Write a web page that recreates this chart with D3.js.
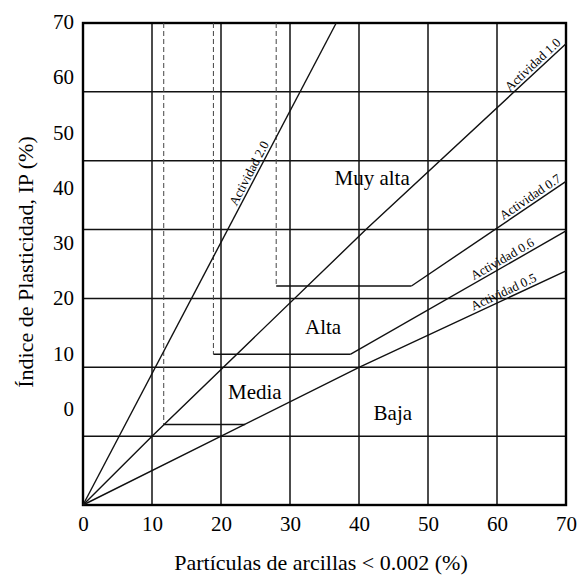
<!DOCTYPE html>
<html>
<head>
<meta charset="utf-8">
<script src="https://cdn.jsdelivr.net/npm/d3@7"></script>
<style>
  body { margin: 0; background: #fff; }
  text { font-family: "Liberation Serif", "Times New Roman", serif; fill: #000; }
</style>
</head>
<body>
<svg id="chart"></svg>
<script>
// tick values
const xTicks = [0, 10, 20, 30, 40, 50, 60, 70];
const yGrid = [0, 10, 20, 30, 40, 50, 60, 70];
const yLabels = [0, 10, 20, 30, 40, 50, 60, 70];

// activity lines (clay %, IP)
const act20 = [[0, 0], [36.7, 70]];
const act10 = [[0, 0], [10, 10], [41, 40], [70, 67]];
const act05 = [[0, 0], [40, 20], [70, 34]];
const act06 = [[38.8, 21.9], [70, 39.8]];
const act07 = [[47.6, 31.8], [70, 47]];

// zone limits: dashed vertical at clay, step at IP, step ends at clay
const zoneClay = [11.7, 18.9, 28.0];
const zoneIP = [11.7, 21.9, 31.8];
const zoneEnd = [23.5, 38.8, 47.6];

const zoneNames = ["Media", "Alta", "Muy alta", "Baja"];
const zoneAt = [[24.9, 16.4], [34.8, 25.9], [41.9, 47.5], [44.9, 13.4]];

const actNames = ["Actividad 2.0", "Actividad 1.0", "Actividad 0.7", "Actividad 0.6", "Actividad 0.5"];
const actLines = [act20, act10, act07, act06, act05];
const actAt = [25, 65.9, 65.4, 61.3, 61.4];

const W = 582, H = 576;
const margin = { top: 23, right: 16, bottom: 71, left: 83 };
const width = W - margin.left - margin.right,
      height = H - margin.top - margin.bottom;

const svg = d3.select("#chart").attr("width", W).attr("height", H);
const g = svg.append("g").attr("transform", `translate(${margin.left},${margin.top})`);

const x = d3.scaleLinear().domain([0, 70]).range([0, width]);
const y = d3.scaleLinear().domain([0, 70]).range([height, 0]);
// the printed y labels sit on their own spacing, not on the grid
const yLab = d3.scaleLinear().domain([0, 70]).range([385.5, -1]);

// grid
g.selectAll(".vgrid").data(xTicks).enter().append("line")
  .attr("x1", d => x(d)).attr("x2", d => x(d))
  .attr("y1", 0).attr("y2", height)
  .attr("stroke", "#111").attr("stroke-width", 1.5);
g.selectAll(".hgrid").data(yGrid).enter().append("line")
  .attr("y1", d => y(d)).attr("y2", d => y(d))
  .attr("x1", 0).attr("x2", width)
  .attr("stroke", "#111").attr("stroke-width", 1.5);
g.append("rect").attr("width", width).attr("height", height)
  .attr("fill", "none").attr("stroke", "#000").attr("stroke-width", 2.4);

// x axis labels
const xAxis = g.append("g").attr("transform", `translate(0,${height})`)
  .call(d3.axisBottom(x).tickValues(xTicks).tickSize(0).tickPadding(11));
xAxis.select(".domain").remove();
xAxis.selectAll("text").attr("font-size", 21).attr("fill", "#000");

// y axis labels
const yAxis = g.append("g")
  .call(d3.axisLeft(yLab).tickValues(yLabels).tickSize(0).tickPadding(9));
yAxis.select(".domain").remove();
yAxis.selectAll("text").attr("font-size", 21).attr("fill", "#000");

// dashed zone limits
g.selectAll(".dash").data(zoneClay).enter().append("line")
  .attr("x1", d => x(d)).attr("x2", d => x(d))
  .attr("y1", 0).attr("y2", (d, i) => y(zoneIP[i]))
  .attr("stroke", "#444").attr("stroke-width", 1).attr("stroke-dasharray", "5,3");

const line = d3.line().x(d => x(d[0])).y(d => y(d[1]));
// steps
g.selectAll(".step").data(zoneIP).enter().append("path")
  .attr("d", (d, i) => line([[zoneClay[i], d], [zoneEnd[i], d]]))
  .attr("fill", "none").attr("stroke", "#111").attr("stroke-width", 1.4);

// activity lines
g.selectAll(".act").data(actLines).enter().append("path")
  .attr("d", line)
  .attr("fill", "none").attr("stroke", "#111").attr("stroke-width", 1.4);

// activity labels along their lines
function pointOn(pts, cx) {
  for (let i = 0; i < pts.length - 1; i++) {
    const a = pts[i], b = pts[i + 1];
    if (cx >= a[0] && cx <= b[0]) {
      const t = (cx - a[0]) / (b[0] - a[0]);
      const px = x(cx), py = y(a[1] + t * (b[1] - a[1]));
      const ang = Math.atan2(y(b[1]) - y(a[1]), x(b[0]) - x(a[0])) * 180 / Math.PI;
      return [px, py, ang];
    }
  }
}
g.selectAll(".actlab").data(actNames).enter().append("text")
  .attr("transform", (d, i) => {
    const p = pointOn(actLines[i], actAt[i]);
    return `translate(${p[0]},${p[1]}) rotate(${p[2]})`;
  })
  .attr("dy", -3)
  .attr("text-anchor", "middle")
  .attr("font-size", 13)
  .text(d => d);

// zone labels
g.selectAll(".zone").data(zoneNames).enter().append("text")
  .attr("x", (d, i) => x(zoneAt[i][0]))
  .attr("y", (d, i) => y(zoneAt[i][1]))
  .attr("dy", "0.35em")
  .attr("text-anchor", "middle")
  .attr("font-size", 21)
  .text(d => d);

// axis titles
svg.append("text")
  .attr("x", 321).attr("y", 570)
  .attr("text-anchor", "middle").attr("font-size", 22)
  .text("Partículas de arcillas < 0.002 (%)");
svg.append("text")
  .attr("transform", "translate(33,262) rotate(-90)")
  .attr("text-anchor", "middle").attr("font-size", 22)
  .text("Índice de Plasticidad, IP (%)");
</script>
</body>
</html>
